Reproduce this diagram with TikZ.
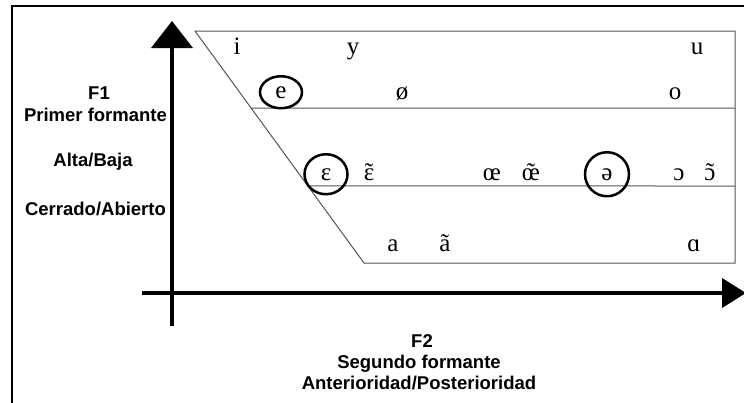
\documentclass[tikz,border=0pt]{standalone}
\usepackage{fontspec}
\setmainfont{Liberation Serif}
\setsansfont{Liberation Sans}
\usetikzlibrary{arrows.meta,shapes.geometric,calc}
\definecolor{grid}{HTML}{555555}
\newcommand\vowelfont{\rmfamily\fontsize{25}{28}\selectfont}
\newcommand\labfont{\sffamily\bfseries\fontsize{18.5}{21}\selectfont}
% nasal vowel: tilde set over the letter
\newcommand\nasal[1]{\ooalign{#1\cr\hidewidth\char"02DC\hidewidth\cr}}

\begin{document}
\begin{tikzpicture}[x=1pt, y=-1pt,
  vowel/.style={font=\vowelfont, anchor=base, inner sep=0pt},
  ring/.style={vowel, draw, ellipse, line width=2.5pt, inner sep=0pt},
  lab/.style={font=\labfont, anchor=base, inner sep=0pt},
  chart/.style={grid, line width=1pt},
  axis/.style={line width=4pt}]
  \useasboundingbox (0,0) rectangle (744,402);

  % Frame
  \draw[line width=2pt] (744,6) -- (12,6) -- (12,403);

  % Vowel chart
  \coordinate (tl) at (195,31);
  \coordinate (tr) at (735,31);
  \coordinate (br) at (735,263);
  \coordinate (bl) at (364,263);
  \draw[chart] (tl) -- (tr) -- (br) -- (bl) -- cycle;
  \draw[chart] ($(tl)!0.332!(bl)$) -- (735,108);
  \draw[chart] ($(tl)!0.668!(bl)$) -- (735,186);

  % Axes
  \draw[axis, -{Triangle[length=27pt,width=41pt]}] (172,326) -- (172,21);
  \draw[axis, -{Triangle[length=24pt,width=29pt]}] (142,293) -- (746,293);

  % Axis labels
  \node[lab] (f1) at (99,99) {F1};
  \node[lab] (f1name) at (95.5,121) {Primer formante};
  \node[lab] (f1alt) at (93,166) {Alta/Baja};
  \node[lab] (f1open) at (95.5,215) {Cerrado/Abierto};
  \node[lab] (f2) at (422,347) {F2};
  \node[lab] (f2name) at (419,368) {Segundo formante};
  \node[lab] (f2ant) at (419,389) {Anterioridad/Posterioridad};

  % Vowels
  \node[vowel] (vi) at (237,54) {i};
  \node[vowel] (vy) at (353,54) {y};
  \node[vowel] (vu) at (697,54) {u};
  \node[ring, minimum width=42pt, minimum height=32pt] (ve) at (281,98) {e};
  \node[vowel] (voe) at (402,99) {ø};
  \node[vowel] (vo) at (675,99) {o};
  \node[ring, minimum width=43pt, minimum height=40pt] (veps) at (326,180) {ɛ};
  \node[vowel] (vepsn) at (369,180) {\nasal{ɛ}};
  \node[vowel] (voel) at (492,180) {œ};
  \node[vowel] (voeln) at (531,180) {\nasal{œ}};
  \node[ring, minimum width=44pt, minimum height=44pt] (vschwa) at (607,180) {ə};
  \node[vowel] (vopo) at (679,180) {ɔ};
  \node[vowel] (vopon) at (710,180) {\nasal{ɔ}};
  \node[vowel] (va) at (393,251) {a};
  \node[vowel] (van) at (445,251) {ã};
  \node[vowel] (vback) at (694,251) {ɑ};
\end{tikzpicture}
\end{document}
